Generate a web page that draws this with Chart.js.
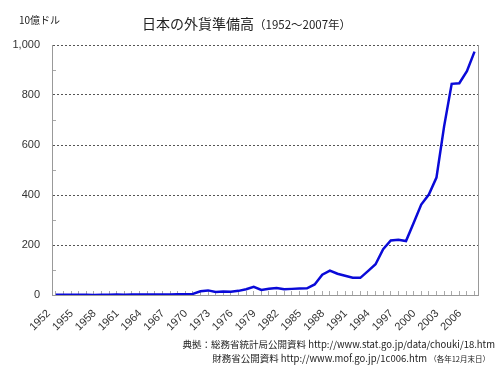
<!DOCTYPE html>
<html>
<head>
<meta charset="utf-8">
<script src="https://cdn.jsdelivr.net/npm/chart.js@4.4.0/dist/chart.umd.min.js"></script>
<style>
  body { margin: 0; background: #fff; }
  #wrap { position: relative; width: 500px; height: 375px; font-family: "Noto Sans CJK JP", sans-serif; color: #222; }
  #chart { position: absolute; left: 0; top: 0; }
  .txt { position: absolute; white-space: nowrap; }
  #unit { left: 19px; top: 12px; font-size: 10px; }
  #title { left: 142px; top: 13px; font-size: 14px; }
  #title small { font-size: 11.5px; }
  #src1 { right: 5px; top: 337px; font-size: 9.5px; }
  #src2 { right: 10px; top: 351px; font-size: 9.5px; }
  #src2 small { font-size: 7.5px; }
</style>
</head>
<body>
<div id="wrap">
  <canvas id="chart" width="500" height="375"></canvas>
  <div class="txt" id="unit">10億ドル</div>
  <div class="txt" id="title">日本の外貨準備高<small>（1952〜2007年）</small></div>
  <div class="txt" id="src1">典拠：総務省統計局公開資料 http://www.stat.go.jp/data/chouki/18.htm</div>
  <div class="txt" id="src2">財務省公開資料 http://www.mof.go.jp/1c006.htm <small>（各年12月末日）</small></div>
</div>
<script>
// years 1952-2007
const years = [];
for (let y = 1952; y <= 2007; y++) years.push(String(y));

// foreign reserves, billion USD (end of year)
const reserves = [
  1.1, 0.9, 1.0, 0.7, 0.9, 0.5, 0.9, 1.3, 1.8, 1.5,
  1.8, 1.9, 2.0, 2.1, 2.1, 2.0, 2.9, 3.5, 4.4, 15.2,
  18.4, 12.2, 13.5, 12.8, 16.6, 22.8, 33.0, 20.3, 25.2, 28.4,
  23.3, 24.5, 26.3, 26.5, 42.2, 81.5, 97.7, 84.9, 77.1, 68.9,
  68.7, 95.6, 122.8, 182.8, 217.9, 220.8, 215.9, 288.1, 361.6, 401.9,
  469.7, 673.5, 844.5, 846.9, 895.3, 973.4
];

const yTicks = [0, 200, 400, 600, 800, 1000];

const tickFont = { family: "'Liberation Sans', sans-serif", size: 11 };

new Chart(document.getElementById("chart"), {
  type: "line",
  data: {
    labels: years,
    datasets: [{
      data: reserves,
      borderColor: "#0a0ad8",
      borderWidth: 2.5,
      pointRadius: 0,
      tension: 0,
      fill: false
    }]
  },
  options: {
    responsive: false,
    animation: false,
    layout: { padding: { top: 45, right: 16, bottom: 30, left: 0 } },
    plugins: { legend: { display: false }, tooltip: { enabled: false } },
    scales: {
      x: {
        offset: true,
        afterFit: s => { s.height = 50; },
        border: { color: "#999", width: 1 },
        grid: {
          offset: false,
          drawOnChartArea: false,
          tickLength: -4,
          tickColor: "#aaa"
        },
        ticks: {
          autoSkip: false,
          minRotation: 45,
          maxRotation: 45,
          padding: 16,
          labelOffset: -7,
          color: "#333",
          font: tickFont,
          callback: (v, i) => (i % 3 === 0 ? years[i] : "")
        }
      },
      y: {
        min: 0,
        max: 1000,
        afterFit: s => { s.width = 52; },
        border: { color: "#999", width: 1, dash: [2, 2] },
        grid: {
          color: c => (yTicks.includes(c.tick.value) && c.tick.value > 0 ? "#555" : "rgba(0,0,0,0)"),
          lineWidth: 1,
          tickLength: -4,
          tickColor: c => (yTicks.includes(c.tick.value) ? "rgba(0,0,0,0)" : "#aaa"),
          tickBorderDash: []
        },
        ticks: {
          stepSize: 100,
          padding: 16,
          color: "#333",
          font: tickFont,
          callback: v => (yTicks.includes(v) ? v.toLocaleString("en-US") : "")
        }
      },
      y2: {
        position: "right",
        min: 0,
        max: 1000,
        afterFit: s => { s.width = 0; },
        border: { color: "#999", width: 1 },
        grid: { drawOnChartArea: false, drawTicks: false },
        ticks: { display: false }
      }
    }
  }
});
</script>
</body>
</html>
